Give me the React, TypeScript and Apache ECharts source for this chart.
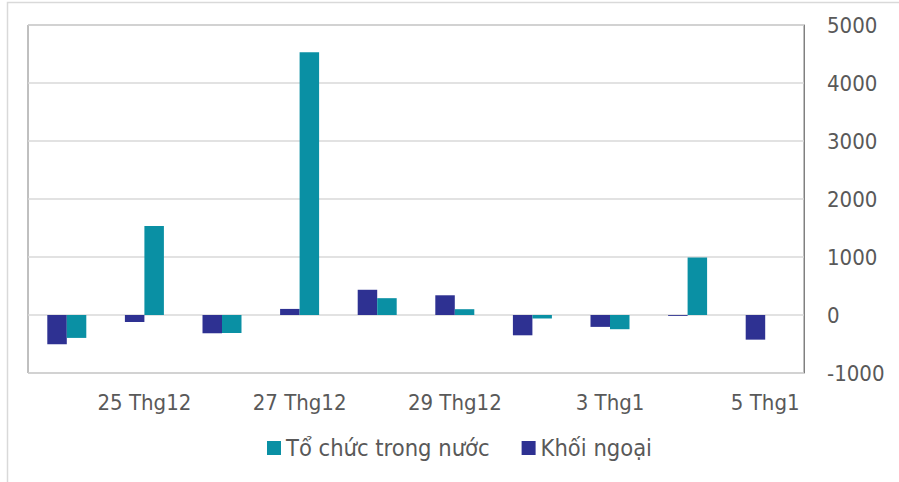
import React, { useEffect, useRef } from "react";
import * as echarts from "echarts";

const categories = [
  "24 Thg12", "25 Thg12", "26 Thg12", "27 Thg12", "28 Thg12",
  "29 Thg12", "31 Thg12", "3 Thg1", "4 Thg1", "5 Thg1",
];
const khoiNgoai = [-505, -120, -315, 105, 435, 340, -350, -205, -15, -425];
const toChucTrongNuoc = [-395, 1535, -310, 4530, 290, 100, -60, -245, 990, 0];
const yTicks = { min: -1000, max: 5000, interval: 1000 };

const FONT = "'DejaVu Sans Condensed', 'DejaVu Sans', sans-serif";
const TEXT = "#595959";

export default function App() {
  const ref = useRef<HTMLDivElement>(null);
  useEffect(() => {
    if (!ref.current) return;
    const chart = echarts.init(ref.current, null, { renderer: "svg" });
    chart.setOption({
      animation: false,
      backgroundColor: "#ffffff",
      textStyle: { fontFamily: FONT },
      graphic: [
        {
          type: "rect",
          shape: { x: 7.5, y: 2.5, width: 1000, height: 1000 },
          style: { fill: "none", stroke: "#d9d9d9", lineWidth: 1.5 },
          silent: true,
          z: -1,
        },
      ],
      grid: {
        left: 28,
        right: 95,
        top: 25,
        bottom: 109,
        show: true,
        borderColor: "#808080",
        borderWidth: 1,
        containLabel: false,
      },
      legend: {
        left: 262,
        top: 431,
        icon: "rect",
        itemWidth: 14,
        itemHeight: 14,
        itemGap: 32,
        data: ["Tổ chức trong nước", "Khối ngoại"],
        textStyle: { color: TEXT, fontSize: 23.5, fontFamily: FONT },
      },
      xAxis: {
        type: "category",
        data: categories,
        axisLine: { show: false, onZero: false },
        axisTick: { show: false },
        axisLabel: {
          color: TEXT,
          fontSize: 22,
          fontFamily: FONT,
          margin: 18,
          interval: (i: number) => i % 2 === 1,
        },
      },
      yAxis: {
        type: "value",
        position: "right",
        min: yTicks.min,
        max: yTicks.max,
        interval: yTicks.interval,
        axisLine: { show: true, lineStyle: { color: "#808080", width: 1 } },
        axisTick: { show: false },
        splitLine: { lineStyle: { color: "#d9d9d9", width: 1.5 } },
        axisLabel: {
          color: TEXT,
          fontSize: 22,
          fontFamily: FONT,
          margin: 23,
          formatter: (v: number) => String(v),
        },
      },
      series: [
        {
          name: "Khối ngoại",
          type: "bar",
          data: khoiNgoai,
          barWidth: 19.5,
          barGap: "0%",
          itemStyle: { color: "#2e3192" },
        },
        {
          name: "Tổ chức trong nước",
          type: "bar",
          data: toChucTrongNuoc,
          barWidth: 19.5,
          barGap: "0%",
          itemStyle: { color: "#0a90a4" },
        },
      ],
    });
    return () => chart.dispose();
  }, []);
  return (
    <div
      ref={ref}
      style={{ position: "fixed", left: 0, top: 0, width: 899, height: 482 }}
    />
  );
}
